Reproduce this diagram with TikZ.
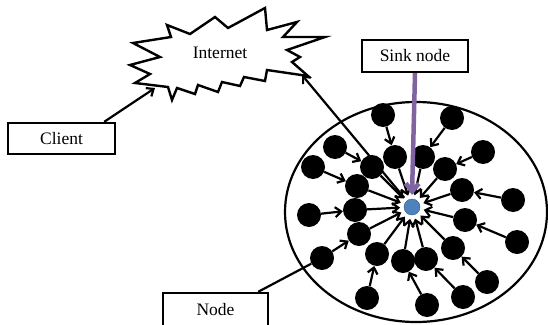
\documentclass[tikz,border=0pt]{standalone}
\usepackage{fontspec}
\setmainfont{Liberation Serif}
\usetikzlibrary{arrows.meta}
\definecolor{sinkblue}{RGB}{79,129,189}
\definecolor{sinkpurple}{RGB}{128,100,162}
\tikzset{
  dot/.style={circle, fill=black, inner sep=0pt, minimum size=24pt},
  arr/.style={line width=2.2pt, -{Straight Barb[length=6pt,width=10pt]}},
  tagbox/.style={draw, line width=2.4pt, inner sep=0pt, fill=white}
}

\begin{document}
\begin{tikzpicture}[x=1pt, y=-1pt, font=\fontsize{17.5}{20}\selectfont]
			%%%%% START %%%%%
			\clip (0,0) rectangle (548,324);
			
			% internet cloud
			\draw[line width=2.4pt, fill=white] (167,25) -- (190,34) -- (215,17) -- (228,28) -- (265,8) -- (267,30) -- (297,22) -- (283,37) -- (325,37) -- (287,50) -- (300,57) -- (292,62) -- (308,76) -- (267,70) -- (265,81) -- (244,77) -- (240,86) -- (222,82) -- (218,92) -- (198,85) -- (195,94) -- (177,88) -- (172,100) -- (168,87) -- (135,83) -- (150,74) -- (130,65) -- (160,57) -- (133,43) -- (171,37) -- cycle;
			\node (inet) at (220,53) {Internet};
			\coordinate (inetA) at (155,88);
			\coordinate (inetB) at (302,75);
			
			% field
			\draw[line width=2.2pt] (416,212) ellipse [x radius=131, y radius=110];
			
			\node[dot] (n1) at (383,115) {};
			\node[dot] (n2) at (452,118) {};
			\node[dot] (n3) at (335,147) {};
			\node[dot] (n4) at (483,152) {};
			\node[dot] (n5) at (395,157) {};
			\node[dot] (n6) at (423,157) {};
			\node[dot] (n7) at (313,167) {};
			\node[dot] (n8) at (372,167) {};
			\node[dot] (n9) at (445,169) {};
			\node[dot] (n10) at (357,186) {};
			\node[dot] (n11) at (462,190) {};
			\node[dot] (n12) at (513,200) {};
			\node[dot] (n13) at (309,215) {};
			\node[dot] (n14) at (355,210) {};
			\node[dot] (n15) at (465,220) {};
			\node[dot] (n16) at (517,242) {};
			\node[dot] (n17) at (359,234) {};
			\node[dot] (n18) at (453,248) {};
			\node[dot] (n19) at (377,254) {};
			\node[dot] (n20) at (403,261) {};
			\node[dot] (n21) at (426,259) {};
			\node[dot] (n22) at (322,258) {};
			\node[dot] (n23) at (487,282) {};
			\node[dot] (n24) at (367,298) {};
			\node[dot] (n25) at (427,305) {};
			\node[dot] (n26) at (463,297) {};
			
			\node[circle, fill=sinkblue, draw=sinkblue!70!black, inner sep=0pt, minimum size=16pt, outer sep=4pt] (sink) at (412,207) {};
			
			% outer to inner
			\draw[arr] (n1) -- (n5);
			\draw[arr] (n2) -- (n6);
			\draw[arr] (n3) -- (n8);
			\draw[arr] (n4) -- (n9);
			\draw[arr] (n7) -- (n10);
			\draw[arr] (n13) -- (n14);
			\draw[arr] (n12) -- (n11);
			\draw[arr] (n16) -- (n15);
			\draw[arr] (n22) -- (n17);
			\draw[arr] (n24) -- (n19);
			\draw[arr] (n25) -- (n20);
			\draw[arr] (n26) -- (n21);
			\draw[arr] (n23) -- (n18);
			
			% inner to sink
			\draw[arr] (n5) -- (sink);
			\draw[arr] (n6) -- (sink);
			\draw[arr] (n8) -- (sink);
			\draw[arr] (n9) -- (sink);
			\draw[arr] (n10) -- (sink);
			\draw[arr] (n11) -- (sink);
			\draw[arr] (n14) -- (sink);
			\draw[arr] (n15) -- (sink);
			\draw[arr] (n17) -- (sink);
			\draw[arr] (n18) -- (sink);
			\draw[arr] (n19) -- (sink);
			\draw[arr] (n20) -- (sink);
			\draw[arr] (n21) -- (sink);
			
			\draw[arr] (sink) -- (inetB);
			
			% labels
			\node[tagbox, minimum width=107pt, minimum height=31pt] (client) at (61.5,138.5) {Client};
			\draw[arr] ([xshift=-12pt]client.north east) -- (inetA);
			
			\node[tagbox, minimum width=106pt, minimum height=32pt] (sinkbox) at (415,56) {Sink node};
			\draw[line width=4.5pt, color=sinkpurple, -{Straight Barb[length=8pt,width=13pt]}] (sinkbox.south) -- (sink.north);
			
			\node[tagbox, minimum width=105pt, minimum height=34pt] (nodelabel) at (215.5,310) {Node};
			\draw[line width=2.2pt] ([xshift=-11pt]nodelabel.north east) -- (n22);
			
			%%%%% END %%%%%
		\end{tikzpicture}
\end{document}
